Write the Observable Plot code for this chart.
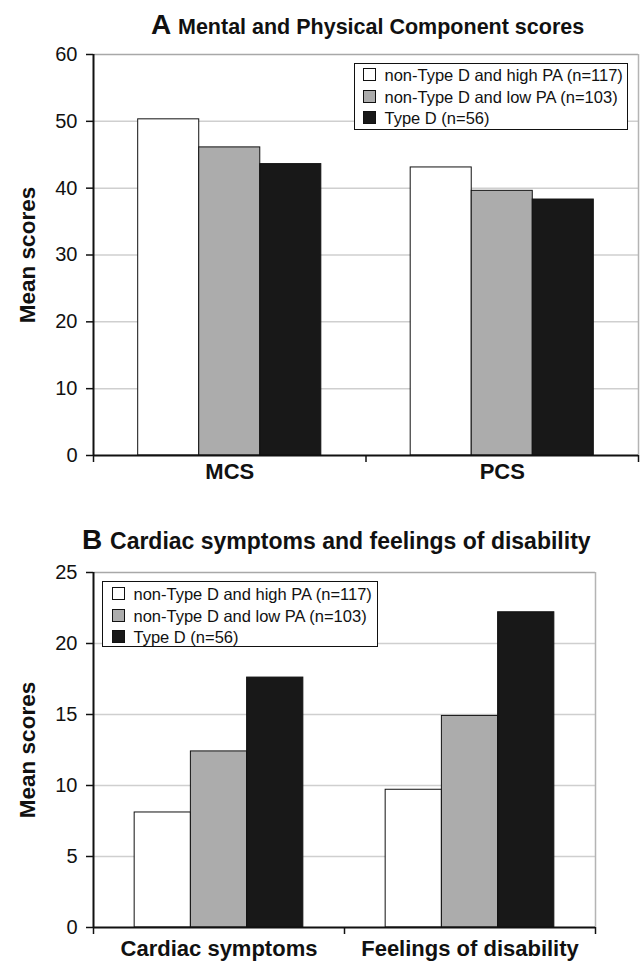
<!DOCTYPE html>
<html><head><meta charset="utf-8">
<script src="https://cdn.jsdelivr.net/npm/d3@7"></script>
<script src="https://cdn.jsdelivr.net/npm/@observablehq/plot@0.6"></script>
<style>
body{margin:0;background:#fff;font-family:"Liberation Sans",Arial,sans-serif;}
#root{position:relative;width:640px;height:966px;overflow:hidden;background:#fff}
.title{position:absolute;white-space:nowrap;font-weight:bold;color:#111;line-height:1;font-size:28px}
.title .rest{font-size:21.5px}
.title.b .rest{font-size:23px}
.chart{position:absolute;left:0}
.legend{position:absolute;border:1.5px solid #111;background:#fff;box-sizing:border-box}
.row{position:absolute;display:flex;align-items:center;font-size:16.5px;white-space:nowrap;line-height:16px;height:16px;color:#111}
.sw{width:13px;height:13px;border:1px solid #111;margin-right:9px;box-sizing:border-box;flex:none}
</style></head>
<body><div id="root"></div>
<script>
// ---- data ----
const groupLabels = ["non-Type D and high PA (n=117)", "non-Type D and low PA (n=103)", "Type D (n=56)"];
const groupColors = ["#ffffff", "#acacac", "#181818"];

const categoriesA = ["MCS", "PCS"];
const highPA_A = [50.3, 43.1];
const lowPA_A  = [46.1, 39.6];
const typeD_A  = [43.6, 38.3];
const ticksA = [0, 10, 20, 30, 40, 50, 60];

const categoriesB = ["Cardiac symptoms", "Feelings of disability"];
const highPA_B = [8.1, 9.7];
const lowPA_B  = [12.4, 14.9];
const typeD_B  = [17.6, 22.2];
const ticksB = [0, 5, 10, 15, 20, 25];

const root = document.getElementById("root");

function makeChart({cats, series, ticks, top, height, marginTop, marginBottom, marginRight, labelDy}) {
  const table = cats.flatMap((c, ci) => series.map((vals, gi) => ({cat: c, ci, gi, group: groupLabels[gi], value: vals[ci]})));
  const gap = 0.164, bw = (1 - 2 * gap) / 3;
  const n = cats.length;
  const ymax = ticks[ticks.length - 1];
  const svg = Plot.plot({
    width: 640, height, marginLeft: 93, marginRight, marginTop, marginBottom,
    x: {domain: [0, n], axis: null},
    y: {domain: [0, ymax], axis: null},
    color: {domain: groupLabels, range: groupColors},
    style: {fontFamily: '"Liberation Sans", Arial, sans-serif', fontSize: "20px", color: "#111", background: "transparent", overflow: "visible"},
    marks: [
      Plot.ruleY(ticks.filter(t => t > 0 && t < ymax), {stroke: "#cfcfcf", strokeWidth: 1.5}),
      Plot.ruleY([ymax], {stroke: "#a8a8a8", strokeWidth: 1.5}),
      Plot.ruleX([n], {stroke: "#b4b4b4", strokeWidth: 1.5}),
      Plot.rect(table, {
        x1: d => d.ci + gap + d.gi * bw,
        x2: d => d.ci + gap + (d.gi + 1) * bw,
        y1: 0, y2: "value",
        fill: "group", stroke: "#111", strokeWidth: 1
      }),
      Plot.ruleX([0], {stroke: "#111", strokeWidth: 2}),
      Plot.ruleY([0], {stroke: "#111", strokeWidth: 2}),
      Plot.axisY({ticks, label: null, tickSize: 7, tickPadding: 9, strokeWidth: 1.5, fontSize: 20}),
      Plot.axisX({ticks: d3.range(n + 1), label: null, tickSize: 7, strokeWidth: 1.5, tickFormat: () => ""}),
      Plot.text(cats, {x: (d, i) => i + 0.5, text: d => d, frameAnchor: "bottom", dy: labelDy, fontSize: 22, fontWeight: "bold"}),
      Plot.text(["Mean scores"], {text: d => d, frameAnchor: "left", textAnchor: "middle", rotate: -90, dx: -66, fontSize: 22.5, fontWeight: "bold"})
    ]
  });
  svg.classList.add("chart");
  svg.style.top = top + "px";
  root.appendChild(svg);
}

function title(letter, text, left, top, cls) {
  const d = document.createElement("div");
  d.className = "title " + cls;
  d.style.left = left + "px";
  d.style.top = top + "px";
  d.innerHTML = `<span class="big">${letter}</span> <span class="rest">${text}</span>`;
  root.appendChild(d);
}

function legend(left, top, width, height, rowLeft, rowTops) {
  const box = document.createElement("div");
  box.className = "legend";
  Object.assign(box.style, {left: left + "px", top: top + "px", width: width + "px", height: height + "px"});
  groupLabels.forEach((g, i) => {
    const r = document.createElement("div");
    r.className = "row";
    r.style.left = rowLeft + "px";
    r.style.top = rowTops[i] + "px";
    r.innerHTML = `<div class="sw" style="background:${groupColors[i]}"></div><span>${g}</span>`;
    box.appendChild(r);
  });
  root.appendChild(box);
}

title("A", "Mental and Physical Component scores", 151, 11, "a");
makeChart({cats: categoriesA, series: [highPA_A, lowPA_A, typeD_A], ticks: ticksA, top: 40, height: 460, marginTop: 14, marginBottom: 45, marginRight: 2, labelDy: 23});
legend(354, 63, 274, 67, 7.5, [2.5, 24.5, 45.5]);

title("B", "Cardiac symptoms and feelings of disability", 82, 526, "b");
makeChart({cats: categoriesB, series: [highPA_B, lowPA_B, typeD_B], ticks: ticksB, top: 560, height: 406, marginTop: 12, marginBottom: 39, marginRight: 45, labelDy: 28});
legend(102, 581, 276, 66, 8.5, [3.5, 25.5, 46.5]);
</script></body></html>
